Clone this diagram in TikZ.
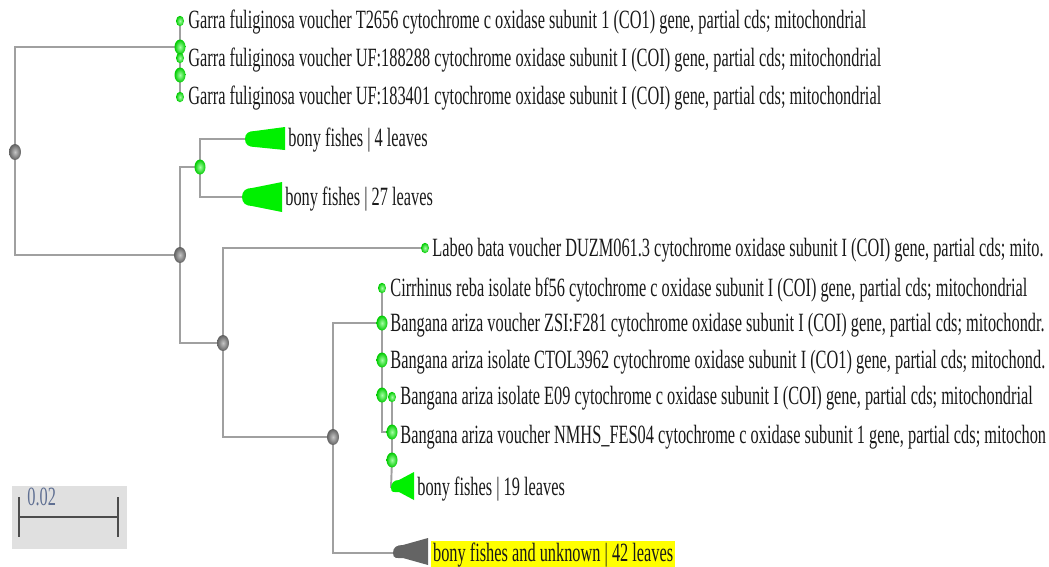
\documentclass[tikz,border=0pt]{standalone}
\usepackage{fontspec}
\setmainfont{Liberation Serif}
\newfontfamily\lblfont[FakeStretch=0.62]{Liberation Serif}
\usetikzlibrary{shapes.geometric,backgrounds}
\definecolor{branchgray}{HTML}{A0A0A0}
\definecolor{leafgreen}{HTML}{00F000}
\definecolor{clumpgray}{HTML}{646464}
\definecolor{scalegray}{HTML}{E0E0E0}
\definecolor{scaleblue}{HTML}{5F6F92}
\definecolor{hiyellow}{HTML}{FFFF00}

\begin{document}
\begin{tikzpicture}[x = 0.02cm, y = -0.02cm,
                    branch/.style = {draw = branchgray, line width = 1.1pt},
                    tipdot/.style = {ellipse, shading = radial, inner color = green!35!white, outer color = green!80!black, minimum width = 0.16cm, minimum height = 0.21cm, inner sep = 0pt},
                    cladedot/.style = {ellipse, shading = radial, inner color = green!35!white, outer color = green!80!black, minimum width = 0.22cm, minimum height = 0.3cm, inner sep = 0pt},
                    greydot/.style = {ellipse, shading = radial, inner color = gray!45, outer color = gray!75!black, minimum width = 0.24cm, minimum height = 0.32cm, inner sep = 0pt},
                    seqname/.style = {anchor = west, inner sep = 0pt, text = black!90, font = \lblfont\fontsize{15}{17}\selectfont}]

\useasboundingbox (0,0) rectangle (1049,566);
\clip (0,0) rectangle (1049,566);

% garra clade
\node [greydot] (root) at (15,152) {};
\node [tipdot] (gf1) at (180,21) {};
\node [cladedot] (g1) at (180,47) {};
\node [tipdot] (gf2) at (180,58) {};
\node [cladedot] (g2) at (180,75) {};
\node [tipdot] (gf3) at (180,97) {};
\node [seqname] (lgf1) at (188,22) {Garra fuliginosa voucher T2656 cytochrome c oxidase subunit 1 (CO1) gene, partial cds; mitochondrial};
\node [seqname] (lgf2) at (188,60) {Garra fuliginosa voucher UF:188288 cytochrome oxidase subunit I (COI) gene, partial cds; mitochondrial};
\node [seqname] (lgf3) at (188,98) {Garra fuliginosa voucher UF:183401 cytochrome oxidase subunit I (COI) gene, partial cds; mitochondrial};

% collapsed bony fishes
\node [greydot] (n2) at (180,255) {};
\node [cladedot] (n3) at (200,167) {};
\coordinate (c1) at (245,139);
\coordinate (c2) at (242,197);
\fill [leafgreen] (c1) .. controls +(0,-6) and +(-6,0) .. ++(10,-8) -- ++(30,-4) -- ++(0,23) -- ++(-30,-3) .. controls +(-6,0) and +(0,6) .. (c1) -- cycle;
\fill [leafgreen] (c2) .. controls +(0,-6) and +(-6,0) .. ++(10,-9) -- ++(30,-6) -- ++(0,30) -- ++(-30,-6) .. controls +(-6,0) and +(0,6) .. (c2) -- cycle;
\node [seqname] (t1) at (288,140) {bony fishes | 4 leaves};
\node [seqname] (t2) at (285,199) {bony fishes | 27 leaves};

% labeo and the rest
\node [greydot] (n4) at (223,343) {};
\node [tipdot] (lb) at (425,248) {};
\node [seqname] (llb) at (432,250) {Labeo bata voucher DUZM061.3 cytochrome oxidase subunit I (COI) gene, partial cds; mito.};
\node [greydot] (n5) at (333,437) {};

% cirrhinus / bangana clade
\node [tipdot] (cr) at (382,288) {};
\node [cladedot] (n6) at (382,323) {};
\node [cladedot] (n7) at (382,360) {};
\node [cladedot] (n8) at (382,395) {};
\node [tipdot] (e09) at (392,397) {};
\node [cladedot] (n9) at (392,432) {};
\node [cladedot] (n10) at (392,460) {};
\coordinate (c4) at (391,488);
\fill [leafgreen] (c4) .. controls +(0,-5) and +(-5,0) .. ++(8,-8) -- ++(15,-8) -- ++(0,28) -- ++(-15,-8) .. controls +(-5,0) and +(0,5) .. (c4) -- cycle;

\node [seqname] (lcr) at (390,290) {Cirrhinus reba isolate bf56 cytochrome c oxidase subunit I (COI) gene, partial cds; mitochondrial};
\node [seqname] (lzsi) at (390,325) {Bangana ariza voucher ZSI:F281 cytochrome oxidase subunit I (COI) gene, partial cds; mitochondr.};
\node [seqname] (lctol) at (390,362) {Bangana ariza isolate CTOL3962 cytochrome oxidase subunit I (CO1) gene, partial cds; mitochond.};
\node [seqname] (le09) at (400,398) {Bangana ariza isolate E09 cytochrome c oxidase subunit I (COI) gene, partial cds; mitochondrial};
\node [seqname] (lnmhs) at (400,437) {Bangana ariza voucher NMHS\_FES04 cytochrome c oxidase subunit 1 gene, partial cds; mitochon};
\node [seqname] (t3) at (417,489) {bony fishes | 19 leaves};

% bony fishes and unknown
\coordinate (c3) at (393,553);
\fill [clumpgray] (c3) .. controls +(0,-6) and +(-6,0) .. ++(10,-8) -- ++(25,-7) -- ++(0,27) -- ++(-25,-7) .. controls +(-6,0) and +(0,6) .. (c3) -- cycle;
\node [seqname, fill = hiyellow, inner xsep = 1pt, inner ysep = 1pt] (t4) at (431,555) {bony fishes and unknown | 42 leaves};

% scale bar
\fill [scalegray] (12,486) rectangle (127,549);
\draw [draw = black!70, line width = 1.2pt] (19,497) -- (19,537);
\draw [draw = black!70, line width = 1.2pt] (118,497) -- (118,537);
\draw [draw = black!70, line width = 1.2pt] (19,517) -- (118,517);
\node [seqname, text = scaleblue] (sb) at (27,497) {0.02};

% branches
\begin{scope}[on background layer]
\draw [branch] (root.center) |- (g1.center);
\draw [branch] (root.center) |- (n2.center);
\draw [branch] (g1.center) -- (gf1.center);
\draw [branch] (g1.center) -- (g2.center);
\draw [branch] (g2.center) -- (gf2.center);
\draw [branch] (g2.center) -- (gf3.center);
\draw [branch] (n2.center) |- (n3.center);
\draw [branch] (n2.center) |- (n4.center);
\draw [branch] (n3.center) |- (c1);
\draw [branch] (n3.center) |- (c2);
\draw [branch] (n4.center) |- (lb.center);
\draw [branch] (n4.center) |- (n5.center);
\draw [branch] (n5.center) |- (n6.center);
\draw [branch] (n5.center) |- (c3);
\draw [branch] (n6.center) -- (cr.center);
\draw [branch] (n6.center) -- (n7.center);
\draw [branch] (n7.center) -- (n8.center);
\draw [branch] (n8.center) |- (n9.center);
\draw [branch] (n9.center) -- (e09.center);
\draw [branch] (n9.center) -- (n10.center);
\draw [branch] (n10.center) -- (c4);
\end{scope}
\end{tikzpicture}
\end{document}
